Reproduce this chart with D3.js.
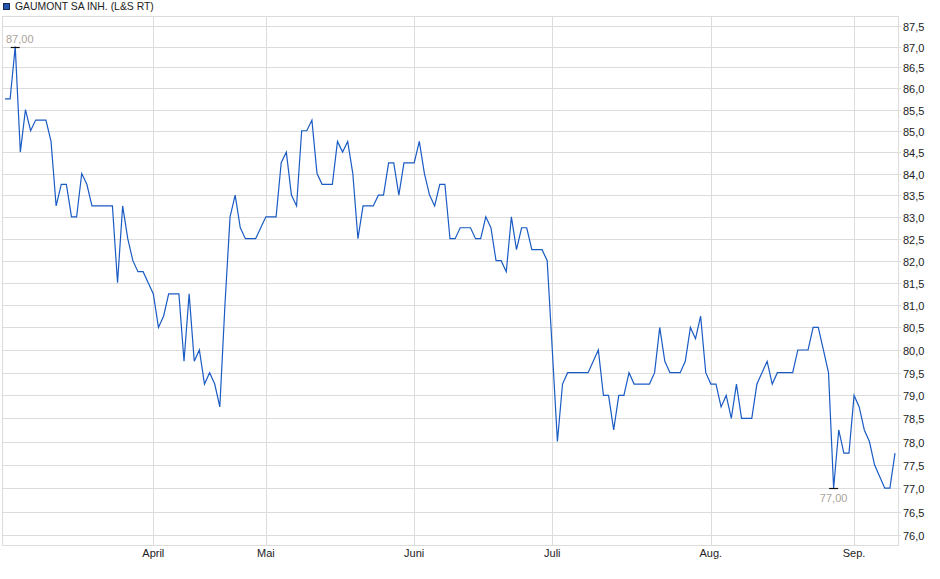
<!DOCTYPE html>
<html>
<head>
<meta charset="utf-8">
<script src="https://cdn.jsdelivr.net/npm/d3@7"></script>
<style>
  html, body { margin: 0; padding: 0; background: #fff; }
  svg { display: block; font-family: Arial, "Liberation Sans", sans-serif; }
</style>
</head>
<body>
<div id="app"></div>
<script>
const seriesName = 'GAUMONT SA INH. (L&S RT)';

// one quote per trading day, mid March to mid September
const prices = [
  85.75, 85.75, 87.0, 84.5, 85.5, 85.0, 85.25, 85.25, 85.25, 84.75,
  83.25, 83.75, 83.75, 83.0, 83.0, 84.0, 83.75, 83.25, 83.25, 83.25,
  83.25, 83.25, 81.5, 83.25, 82.5, 82.0, 81.75, 81.75, 81.5, 81.25,
  80.5, 80.75, 81.25, 81.25, 81.25, 79.75, 81.25, 79.75, 80.0, 79.25,
  79.5, 79.25, 78.75, 81.0, 83.0, 83.5, 82.75, 82.5, 82.5, 82.5,
  82.75, 83.0, 83.0, 83.0, 84.25, 84.5, 83.5, 83.25, 85.0, 85.0,
  85.25, 84.0, 83.75, 83.75, 83.75, 84.75, 84.5, 84.75, 84.0, 82.5,
  83.25, 83.25, 83.25, 83.5, 83.5, 84.25, 84.25, 83.5, 84.25, 84.25,
  84.25, 84.75, 84.0, 83.5, 83.25, 83.75, 83.75, 82.5, 82.5, 82.75,
  82.75, 82.75, 82.5, 82.5, 83.0, 82.75, 82.0, 82.0, 81.75, 83.0,
  82.25, 82.75, 82.75, 82.25, 82.25, 82.25, 82.0, 80.0, 78.0, 79.25,
  79.5, 79.5, 79.5, 79.5, 79.5, 79.75, 80.0, 79.0, 79.0, 78.25,
  79.0, 79.0, 79.5, 79.25, 79.25, 79.25, 79.25, 79.5, 80.5, 79.75,
  79.5, 79.5, 79.5, 79.75, 80.5, 80.25, 80.75, 79.5, 79.25, 79.25,
  78.75, 79.0, 78.5, 79.25, 78.5, 78.5, 78.5, 79.25, 79.5, 79.75,
  79.25, 79.5, 79.5, 79.5, 79.5, 80.0, 80.0, 80.0, 80.5, 80.5,
  80.0, 79.5, 77.0, 78.25, 77.75, 77.75, 79.0, 78.75, 78.25, 78.0,
  77.5, 77.25, 77.0, 77.0, 77.75
];

// month labels and the index of the first quote of each month
const monthLabels = ['April', 'Mai', 'Juni', 'Juli', 'Aug.', 'Sep.'];
const monthStarts = [29, 51, 80, 107, 138, 166];

const yTicks = [76.0, 76.5, 77.0, 77.5, 78.0, 78.5, 79.0, 79.5, 80.0, 80.5, 81.0,
  81.5, 82.0, 82.5, 83.0, 83.5, 84.0, 84.5, 85.0, 85.5, 86.0, 86.5, 87.0, 87.5];

const W = 940, H = 579;
const plot = { left: 2, right: 898, top: 16, bottom: 545 };

const de = d3.formatLocale({ decimal: ',', thousands: '.', grouping: [3], currency: ['', ' €'] });
const fmtAxis = de.format('.1f');
const fmtMark = de.format('.2f');

const svg = d3.select('#app')
  .append('svg')
  .attr('width', W)
  .attr('height', H);

const x = d3.scaleLinear()
  .domain([0, prices.length - 1])
  .range([5, 895]);

const y = d3.scaleLog()
  .domain([75.8, 87.74])
  .range([plot.bottom, plot.top]);

// legend
svg.append('rect')
  .attr('x', 3.5).attr('y', 3.5)
  .attr('width', 6).attr('height', 6)
  .attr('fill', '#2456b0')
  .attr('stroke', '#1a2850');

svg.append('text')
  .attr('x', 15).attr('y', 10)
  .attr('font-size', '10.4px')
  .attr('fill', '#222')
  .text(seriesName);

// grid
const grid = svg.append('g').attr('stroke', '#dcdcdc').attr('shape-rendering', 'crispEdges');

grid.selectAll('.hg')
  .data(yTicks)
  .join('line')
  .attr('x1', plot.left)
  .attr('x2', plot.right + 3)
  .attr('y1', d => Math.round(y(d)) + 0.5)
  .attr('y2', d => Math.round(y(d)) + 0.5);

grid.selectAll('.vg')
  .data(monthStarts)
  .join('line')
  .attr('x1', d => Math.round(x(d)) + 0.5)
  .attr('x2', d => Math.round(x(d)) + 0.5)
  .attr('y1', plot.top)
  .attr('y2', plot.bottom);

grid.append('rect')
  .attr('x', plot.left + 0.5)
  .attr('y', plot.top + 0.5)
  .attr('width', plot.right - plot.left)
  .attr('height', plot.bottom - plot.top)
  .attr('fill', 'none');

// y axis labels on the right
svg.append('g')
  .selectAll('text')
  .data(yTicks)
  .join('text')
  .attr('x', plot.right + 5)
  .attr('y', d => y(d) + 5)
  .attr('font-size', '11px')
  .attr('fill', '#222')
  .text(d => fmtAxis(d));

// month labels
svg.append('g')
  .selectAll('text')
  .data(monthStarts)
  .join('text')
  .attr('x', d => x(d))
  .attr('y', 557)
  .attr('text-anchor', 'middle')
  .attr('font-size', '11px')
  .attr('fill', '#222')
  .text((d, i) => monthLabels[i]);

// price line
const line = d3.line()
  .x((d, i) => x(i))
  .y(d => y(d));

svg.append('path')
  .datum(prices)
  .attr('d', line)
  .attr('fill', 'none')
  .attr('stroke', '#1a5bc4')
  .attr('stroke-width', 1.2)
  .attr('stroke-linejoin', 'miter');

// high / low markers
const hi = d3.maxIndex(prices);
const lo = d3.minIndex(prices);

[{ i: hi, above: true }, { i: lo, above: false }].forEach(m => {
  const cx = x(m.i), cy = Math.round(y(prices[m.i])) + 0.5;
  svg.append('line')
    .attr('x1', cx - 4.5).attr('x2', cx + 4.5)
    .attr('y1', cy).attr('y2', cy)
    .attr('stroke', '#111')
    .attr('stroke-width', 1.2);
  const t = svg.append('text')
    .attr('y', m.above ? cy - 5 : cy + 13)
    .attr('font-size', '11px')
    .attr('fill', '#a9a39a')
    .text(fmtMark(prices[m.i]));
  const w = t.node().getComputedTextLength();
  t.attr('x', Math.max(plot.left + 4, Math.min(plot.right - w - 2, cx - w / 2)));
});
</script>
</body>
</html>
